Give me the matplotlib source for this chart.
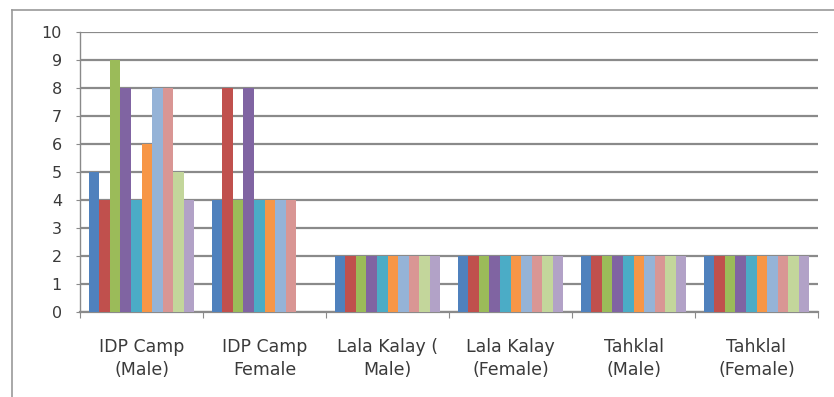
import numpy as np
import matplotlib
matplotlib.use("Agg")
import matplotlib.pyplot as plt
from matplotlib.lines import Line2D

categories = ["IDP Camp\n(Male)", "IDP Camp\nFemale", "Lala Kalay (\nMale)",
              "Lala Kalay\n(Female)", "Tahklal\n(Male)", "Tahklal\n(Female)"]

s1 = [5, 4, 2, 2, 2, 2]
s2 = [4, 8, 2, 2, 2, 2]
s3 = [9, 4, 2, 2, 2, 2]
s4 = [8, 8, 2, 2, 2, 2]
s5 = [4, 4, 2, 2, 2, 2]
s6 = [6, 4, 2, 2, 2, 2]
s7 = [8, 4, 2, 2, 2, 2]
s8 = [8, 4, 2, 2, 2, 2]
s9 = [5, 0, 2, 2, 2, 2]
s10 = [4, 0, 2, 2, 2, 2]

series = [s1, s2, s3, s4, s5, s6, s7, s8, s9, s10]
colors = ["#4F81BD", "#C0504D", "#9BBB59", "#8064A2", "#4BACC6",
          "#F79646", "#95B3D7", "#D99694", "#C3D69B", "#B2A2C7"]

plt.rcParams["font.family"] = ["DejaVu Sans"]

fig = plt.figure(figsize=(8.34, 3.97), dpi=100)
# outer chart border
fig.add_artist(Line2D([12 / 834, 12 / 834], [0, 1 - 10 / 397], color="#9a9a9a", lw=1.2))
fig.add_artist(Line2D([12 / 834, 1], [1 - 10 / 397, 1 - 10 / 397], color="#9a9a9a", lw=1.2))

ax = fig.add_axes([80 / 834, 1 - 312 / 397, (818 - 80) / 834, (312 - 32) / 397])

n = len(series)
x = np.arange(len(categories))
group_w = 0.855
bw = group_w / n
for i, (vals, c) in enumerate(zip(series, colors)):
    ax.bar(x - group_w / 2 + bw * (i + 0.5), vals, width=bw, color=c,
           edgecolor="none", zorder=3)

ax.set_xlim(-0.5, len(categories) - 0.5)
ax.set_ylim(0, 10)
ax.set_yticks(range(0, 11))
ax.yaxis.grid(True, color="#8a8a8a", lw=1.6, zorder=0)
ax.set_axisbelow(True)

for side in ["top", "right"]:
    ax.spines[side].set_visible(False)
ax.spines["left"].set_color("#8a8a8a")
ax.spines["bottom"].set_color("#8a8a8a")
ax.spines["left"].set_linewidth(1.0)
ax.spines["bottom"].set_linewidth(1.6)

ax.set_xticks(np.arange(-0.5, len(categories) + 0.5, 1.0))
ax.set_xticklabels([])
ax.set_xticks(x, minor=True)
ax.set_xticklabels(categories, minor=True, fontsize=12.5, color="#3a3a3a",
                   linespacing=1.3)
ax.tick_params(axis="x", which="major", length=4, color="#8a8a8a", direction="out")
ax.tick_params(axis="x", which="minor", length=0, pad=19)
ax.tick_params(axis="y", length=3, color="#8a8a8a", labelsize=11.5,
               labelcolor="#3a3a3a", pad=10)

fig.savefig("out.png", dpi=100, facecolor="white")
